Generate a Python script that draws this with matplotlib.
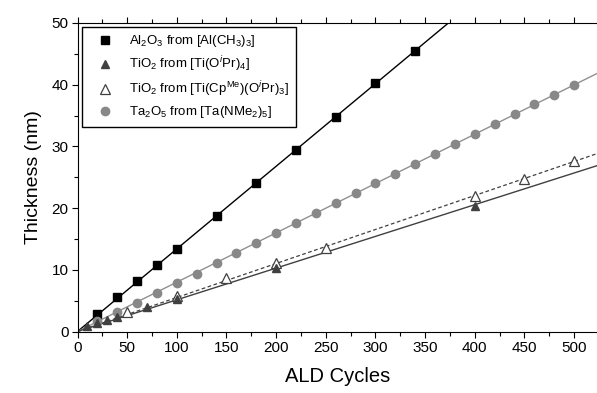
import numpy as np
import matplotlib
matplotlib.use("Agg")
import matplotlib.pyplot as plt
from matplotlib.ticker import MultipleLocator

plt.rcParams['font.family'] = ['Liberation Sans', 'DejaVu Sans']
plt.rcParams['mathtext.fontset'] = 'custom'
plt.rcParams['mathtext.rm'] = 'Liberation Sans'
plt.rcParams['mathtext.it'] = 'Liberation Sans:italic'
plt.rcParams['mathtext.default'] = 'regular'

# Al2O3 from [Al(CH3)3]
al_x = [20, 40, 60, 80, 100, 140, 180, 220, 260, 300, 340]
al_y = [2.9, 5.6, 8.2, 10.7, 13.3, 18.8, 24.1, 29.4, 34.8, 40.2, 45.5]
# TiO2 from [Ti(OiPr)4]
ti1_x = [10, 20, 30, 40, 70, 100, 200, 400]
ti1_y = [0.9, 1.3, 1.9, 2.3, 3.9, 5.2, 10.3, 20.4]
# TiO2 from [Ti(CpMe)(OiPr)3]
ti2_x = [50, 100, 150, 200, 250, 400, 450, 500]
ti2_y = [3.2, 5.8, 8.6, 11.1, 13.5, 22.0, 24.7, 27.6]
# Ta2O5 from [Ta(NMe2)5]
ta_x = [20, 40, 60, 80, 100, 120, 140, 160, 180, 200, 220, 240, 260,
        280, 300, 320, 340, 360, 380, 400, 420, 440, 460, 480, 500]
ta_y = [1.7, 3.2, 4.7, 6.3, 7.8, 9.4, 11.1, 12.7, 14.3, 16.0, 17.6, 19.2, 20.8,
        22.4, 24.0, 25.6, 27.2, 28.8, 30.4, 32.0, 33.6, 35.2, 36.8, 38.4, 40.0]

labels = [r'Al$_2$O$_3$ from [Al(CH$_3$)$_3$]',
          r'TiO$_2$ from [Ti(O$^{\it{i}}$Pr)$_4$]',
          r'TiO$_2$ from [Ti(Cp$^{Me}$)(O$^{\it{i}}$Pr)$_3$]',
          r'Ta$_2$O$_5$ from [Ta(NMe$_2$)$_5$]']

XMAX = 523


def fit_line(x, y):
    # linear fit through origin
    x = np.array(x, float)
    y = np.array(y, float)
    k = np.sum(x * y) / np.sum(x * x)
    xx = np.array([0, XMAX])
    return xx, k * xx


fig = plt.figure(figsize=(5.97, 3.93), dpi=100)
ax = fig.add_axes([77.5 / 597, 1 - 331.5 / 393, 1 - 77.5 / 597, (331.5 - 23) / 393])

xx, yy = fit_line(al_x, al_y)
ax.plot(xx, yy, color='black', lw=1.0)
xx, yy = fit_line(ta_x, ta_y)
ax.plot(xx, yy, color='#909090', lw=1.0)
xx, yy = fit_line(ti1_x, ti1_y)
ax.plot(xx, yy, color='#404040', lw=1.0)
xx, yy = fit_line(ti2_x, ti2_y)
ax.plot(xx, yy, color='#404040', lw=0.9, ls=(0, (3, 2)))

h1, = ax.plot(al_x, al_y, 's', ms=5.5, color='black', clip_on=False)
h3, = ax.plot(ti2_x, ti2_y, '^', ms=6.5, mfc='white', mec='#404040', mew=0.9)
h4, = ax.plot(ta_x, ta_y, 'o', ms=6, color='#888888')
h2, = ax.plot(ti1_x, ti1_y, '^', ms=6, color='#404040')

ax.set_xlim(0, XMAX)
ax.set_ylim(0, 50)
ax.xaxis.set_major_locator(MultipleLocator(50))
ax.xaxis.set_minor_locator(MultipleLocator(25))
ax.yaxis.set_major_locator(MultipleLocator(10))
ax.yaxis.set_minor_locator(MultipleLocator(5))
ax.tick_params(which='both', direction='out', top=True, right=False, width=0.8)
ax.tick_params(which='major', length=4.5, labelsize=11, pad=2)
ax.tick_params(which='minor', length=3)
ax.spines['right'].set_visible(False)
ax.set_xlabel('ALD Cycles', fontsize=14.5, labelpad=9)
ax.set_ylabel('Thickness (nm)', fontsize=14, labelpad=7)

leg = ax.legend([h1, h2, h3, h4], labels, loc='upper left',
                bbox_to_anchor=(0.008, 0.988), borderaxespad=0, fontsize=9.5,
                handletextpad=0.5, labelspacing=0.4, fancybox=False,
                framealpha=1, edgecolor='black', borderpad=0.5, handlelength=2.6)
leg.get_frame().set_linewidth(1.0)

fig.savefig('out.png', dpi=100)
